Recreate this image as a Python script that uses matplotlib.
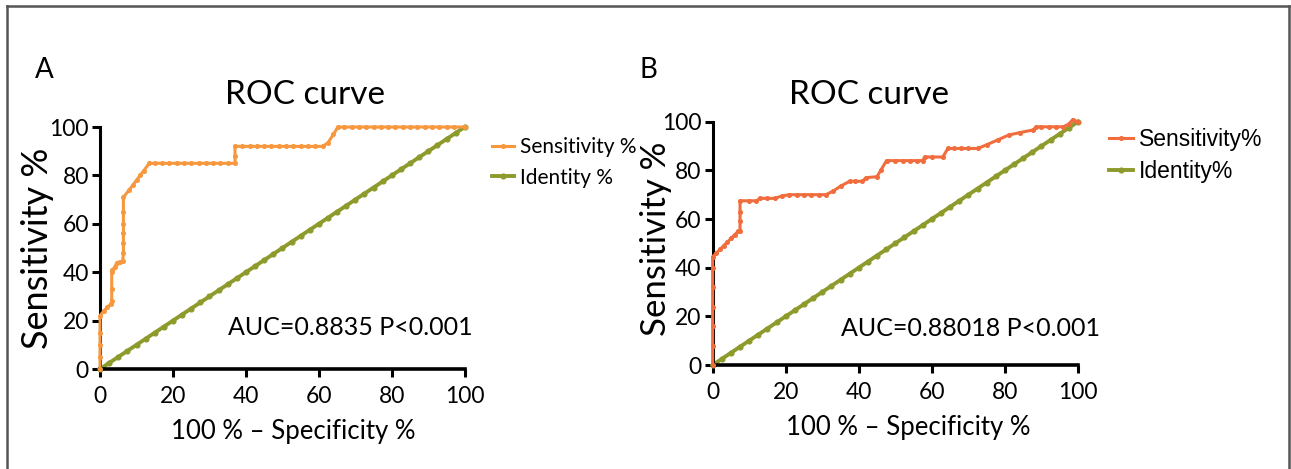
import matplotlib
matplotlib.use("Agg")
import matplotlib.pyplot as plt
from matplotlib.lines import Line2D

# ---------------- data ----------------
# Panel A ROC curve (100% - specificity, sensitivity)
a_x = [0, 0, 0, 0, 0, 1, 2, 3, 3.2, 3.2, 3.2, 3.4, 4, 4.6, 5.4, 6.2, 6.4, 6.4, 6.4, 6.4,
       6.4, 6.4, 8, 9, 10, 11, 12, 13.5, 15, 17, 19, 21, 23, 25, 27, 29, 31, 33, 35, 37,
       37, 37, 39, 41, 43, 45, 47, 49, 51, 53, 55, 57, 59, 61, 62.5, 64, 65.2, 67, 69,
       71, 73, 75, 77, 79, 81, 83, 85, 87, 89, 91, 93, 95, 97, 100]
a_y = [0, 5, 10, 15, 22, 24, 25.5, 27, 28, 33, 40, 41, 42, 44, 44.2, 44.5, 48, 52, 56, 60,
       65, 71, 74, 76, 78, 80, 82, 85, 85, 85, 85, 85, 85, 85, 85, 85, 85, 85, 85, 85,
       88, 92, 92, 92, 92, 92, 92, 92, 92, 92, 92, 92, 92, 92, 93.5, 97, 100, 100, 100,
       100, 100, 100, 100, 100, 100, 100, 100, 100, 100, 100, 100, 100, 100, 100]

# Panel B ROC curve
b_x = [0, 0, 0, 0, 0, 0, 0, 1, 2, 3, 4, 5, 6, 7, 7.5, 7.5, 7.5, 7.5, 10, 12, 13, 15, 17,
       19, 21, 23, 25, 27, 29, 31, 33, 35, 37.5, 39, 41, 42, 45, 46, 47.6, 50, 52, 54,
       56, 57.5, 58, 60, 63, 64.4, 66, 68, 70, 72.6, 75, 78, 81, 84, 87.7, 88.6, 90,
       92, 94, 95.9, 97.5, 98.5, 100]
b_y = [0, 8, 16, 24, 32, 40, 44.5, 46, 47.5, 49, 50.5, 52, 53.5, 55, 55, 59, 63, 67.5,
       67.5, 67.5, 68.5, 68.5, 68.5, 69.5, 70, 70, 70, 70, 70, 70, 71.5, 73.5, 75.5,
       75.5, 75.5, 77, 77.4, 80, 84, 84, 84, 84, 84, 84, 85.5, 85.5, 85.5, 89, 89, 89,
       89, 89, 90.5, 92.5, 94.5, 95.5, 96.6, 97.9, 97.9, 97.9, 97.9, 97.9, 99, 100.8, 100]

# Identity (chance) line
ident = [0, 2.5, 5, 7.5, 10, 12.5, 15, 17.5, 20, 22.5, 25, 27.5, 30, 32.5, 35, 37.5, 40,
         42.5, 45, 47.5, 50, 52.5, 55, 57.5, 60, 62.5, 65, 67.5, 70, 72.5, 75, 77.5, 80,
         82.5, 85, 87.5, 90, 92.5, 95, 97.5, 100]

ticks = [0, 20, 40, 60, 80, 100]
tick_labels = ["0", "20", "40", "60", "80", "100"]

panels = [
    dict(letter="A", x=a_x, y=a_y, color="#F7983F", auc="AUC=0.8835 P<0.001",
         legend=["Sensitivity %", "Identity %"], legend_font="Lato", legend_size=15,
         legend_spacing=0.5, ylabel_size=26,
         rect=[0.0775, 0.2132, 0.2825, 0.516],
         title_xy=(0.236, 0.797), letter_xy=(0.027, 0.851), legend_xy=(0.375, 0.725),
         ylabel_x=-0.125, ylabel_y=0.5, xlabel_x=0.53, auc_xy=(1.022, 0.17)),
    dict(letter="B", x=b_x, y=b_y, color="#F26D3D", auc="AUC=0.88018 P<0.001",
         legend=["Sensitivity%", "Identity%"], legend_font="Liberation Sans", legend_size=16.5,
         legend_spacing=0.38, ylabel_size=25,
         rect=[0.552, 0.2217, 0.283, 0.5188],
         title_xy=(0.673, 0.797), letter_xy=(0.495, 0.851), legend_xy=(0.852, 0.746),
         ylabel_x=-0.11, ylabel_y=0.52, xlabel_x=0.535, auc_xy=(1.06, 0.152)),
]
ident_color = "#8E9B2C"

plt.rcParams["font.family"] = ["Lato", "DejaVu Sans"]

fig = plt.figure(figsize=(12.91, 4.69), dpi=100)

# outer frame
for (xs, ys) in [([0.0054, 0.9985], [0.987, 0.987]),
                 ([0.0054, 0.0054], [0.0, 0.987]),
                 ([0.9985, 0.9985], [0.0, 0.987])]:
    fig.add_artist(Line2D(xs, ys, transform=fig.transFigure, color="#555555", lw=1.8))

for p in panels:
    ax = fig.add_axes(p["rect"])
    l1, = ax.plot(p["x"], p["y"], color=p["color"], lw=2.2, marker="o", ms=2.6,
                  mec=p["color"], clip_on=False, zorder=3)
    l2, = ax.plot(ident, ident, color=ident_color, lw=2.8, marker="o", ms=3.4,
                  mec=ident_color, clip_on=False, zorder=2)
    ax.set_xlim(0, 100)
    ax.set_ylim(0, 100)
    ax.set_xticks(ticks)
    ax.set_xticklabels(tick_labels)
    ax.set_yticks(ticks)
    ax.set_yticklabels(tick_labels)
    for s in ["top", "right"]:
        ax.spines[s].set_visible(False)
    ax.spines["left"].set_linewidth(2.2)
    ax.spines["bottom"].set_linewidth(2.6)
    ax.tick_params(axis="both", direction="out", length=6, width=2.2, labelsize=16.5,
                   colors="black")
    ax.tick_params(axis="x", pad=6)
    ax.tick_params(axis="y", pad=2)
    ax.set_xlabel("100 % – Specificity %", fontsize=18.5)
    ax.xaxis.set_label_coords(p["xlabel_x"], -0.205)
    ax.set_ylabel("Sensitivity %", fontsize=p["ylabel_size"])
    ax.yaxis.set_label_coords(p["ylabel_x"], p["ylabel_y"])
    fig.text(*p["title_xy"], "ROC curve", fontsize=24, ha="center", va="center")
    ax.text(*p["auc_xy"], p["auc"], transform=ax.transAxes, ha="right", va="center",
            fontsize=18)
    fig.text(*p["letter_xy"], p["letter"], fontsize=20, ha="left", va="center")
    ax.legend([l1, l2], p["legend"], loc="upper left",
              bbox_to_anchor=p["legend_xy"], bbox_transform=fig.transFigure,
              frameon=False, handlelength=1.05, handletextpad=0.25,
              labelspacing=p["legend_spacing"], borderaxespad=0,
              prop={"family": p["legend_font"], "size": p["legend_size"]})

fig.savefig("out.png", dpi=100)
